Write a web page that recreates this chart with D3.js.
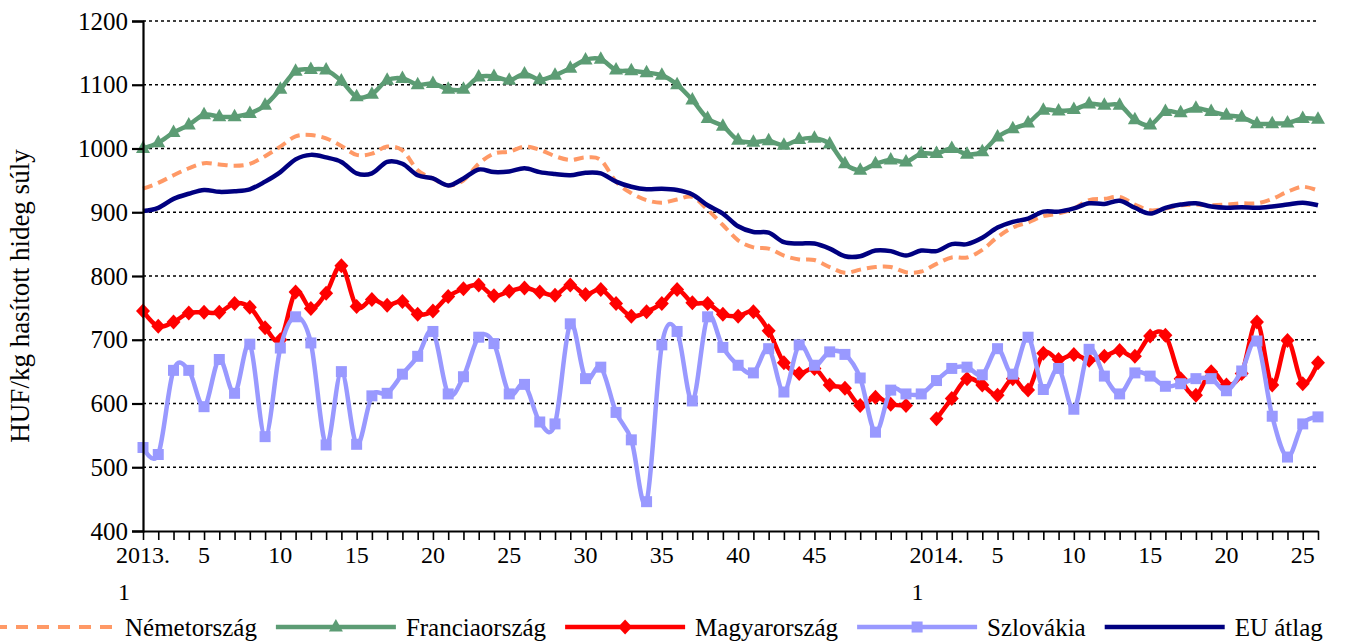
<!DOCTYPE html>
<html>
<head>
<meta charset="utf-8">
<script src="https://cdn.jsdelivr.net/npm/d3@7"></script>
<style>
body { margin: 0; background: #fff; }
svg { display: block; }
text { font-family: "Liberation Serif", "Times New Roman", serif; fill: #000; }
</style>
</head>
<body>
<div id="chart"></div>
<script>
var width = 1345, height = 642;
var plot = {left: 143, right: 1318, top: 21, bottom: 531};

// categories: weeks of 2013 and first half of 2014
var weeks2013 = d3.range(1, 53);
var weeks2014 = d3.range(1, 27);
var categories = weeks2013.map(w => "2013-" + w).concat(weeks2014.map(w => "2014-" + w));
var labelledTicks = ["2013-1","2013-5","2013-10","2013-15","2013-20","2013-25","2013-30","2013-35","2013-40","2013-45",
                     "2014-1","2014-5","2014-10","2014-15","2014-20","2014-25"];
var yTicks = [400, 500, 600, 700, 800, 900, 1000, 1100, 1200];

var nemetorszag = [937,946,958,969,977,975,973,976,988,1003,1019,1021,1016,1004,990,992,1003,997,966,953,942,950,976,992,995,
  1003,998,988,982,986,982,948,930,919,915,920,924,904,880,856,845,843,832,826,825,814,805,810,814,814,806,
  807,819,829,829,841,861,876,884,894,898,906,919,921,924,912,903,906,911,912,911,912,914,914,921,932,940,934];
var franciaorszag = [1000,1009,1025,1037,1053,1050,1050,1055,1068,1093,1121,1124,1123,1106,1081,1085,1107,1110,1100,1102,1093,1093,1112,1113,1107,
  1117,1108,1115,1126,1139,1140,1123,1122,1119,1115,1100,1076,1047,1035,1013,1010,1012,1005,1014,1016,1007,976,966,976,982,979,
  992,992,1000,991,995,1018,1031,1040,1060,1059,1061,1070,1068,1068,1045,1037,1058,1056,1063,1058,1052,1049,1039,1039,1040,1047,1046];
var magyarorszag = [745,721,728,742,743,743,757,751,719,700,775,749,773,816,752,763,754,760,740,745,768,780,786,769,776,
  781,775,770,786,771,779,757,737,744,757,779,758,757,740,737,744,714,664,647,655,629,624,597,610,599,597,
  null,576,608,639,629,613,639,621,679,669,677,668,674,683,674,706,707,639,613,650,629,647,728,629,699,631,664];
var szlovakia = [531,520,652,652,595,669,616,693,548,687,736,695,535,650,536,612,616,646,674,713,615,642,704,694,615,
  630,571,568,725,639,657,586,543,446,692,713,604,736,688,660,648,686,618,692,660,681,677,640,555,621,615,
  615,636,655,657,645,686,646,704,622,655,591,685,643,615,648,643,627,631,639,639,620,651,698,580,516,568,579];
var euAtlag = [902,907,921,929,935,932,933,936,948,963,983,990,986,979,961,961,979,976,958,953,942,953,967,963,964,
  969,963,960,958,962,961,948,940,936,937,935,928,911,898,878,869,868,853,851,851,843,831,831,840,839,832,
  840,839,850,850,860,876,885,890,901,901,906,914,913,918,907,898,907,912,914,909,907,908,907,909,912,915,911];

var series = [
  {name: "Németország",   values: nemetorszag,   color: "#FF9966", width: 4,   dash: "10,6", marker: null},
  {name: "Franciaország", values: franciaorszag, color: "#5C9C74", width: 4.5, dash: null,   marker: "triangle"},
  {name: "Magyarország",  values: magyarorszag,  color: "#FF0000", width: 4.5, dash: null,   marker: "diamond"},
  {name: "Szlovákia",     values: szlovakia,     color: "#9999FF", width: 4.5, dash: null,   marker: "square"},
  {name: "EU átlag",      values: euAtlag,       color: "#000080", width: 4.5, dash: null,   marker: null}
];

var svg = d3.select("#chart").append("svg")
  .attr("width", width)
  .attr("height", height);

var x = d3.scalePoint().domain(categories).range([plot.left, plot.right]);
var y = d3.scaleLinear().domain([400, 1200]).range([plot.bottom, plot.top]);

// dotted gridlines
svg.append("g")
  .selectAll("line")
  .data(yTicks.slice(1))
  .enter()
  .append("line")
    .attr("x1", plot.left)
    .attr("x2", plot.right)
    .attr("y1", d => y(d))
    .attr("y2", d => y(d))
    .attr("stroke", "#000")
    .attr("stroke-width", 1.6)
    .attr("stroke-dasharray", "3,3");

// marker shapes
function markerPath(type) {
  if (type == "triangle") return "M0,-8L7,4.5L-7,4.5Z";
  if (type == "diamond") return "M0,-7.5L7,0L0,7.5L-7,0Z";
  if (type == "square") return "M-5.5,-5.5H5.5V5.5H-5.5Z";
  return null;
}

var line = d3.line()
  .defined(d => d.v != null)
  .x(d => x(d.c))
  .y(d => y(d.v))
  .curve(d3.curveCatmullRom.alpha(0));

series.forEach(function(s) {
  var pts = categories.map((c, i) => ({c: c, v: s.values[i]}));
  var g = svg.append("g");
  g.append("path")
    .datum(pts)
    .attr("d", line)
    .attr("fill", "none")
    .attr("stroke", s.color)
    .attr("stroke-width", s.width)
    .attr("stroke-dasharray", s.dash);
  if (s.marker) {
    g.selectAll(".mk")
      .data(pts.filter(d => d.v != null))
      .enter()
      .append("path")
        .attr("class", "mk")
        .attr("d", markerPath(s.marker))
        .attr("transform", d => "translate(" + x(d.c) + "," + y(d.v) + ")")
        .attr("fill", s.color);
  }
});

// y axis
var yAxis = svg.append("g")
  .attr("transform", "translate(" + plot.left + ",0)")
  .call(d3.axisLeft(y).tickValues(yTicks).tickSize(11).tickPadding(4).tickFormat(d3.format("d")));
yAxis.select(".domain").attr("stroke-width", 2.2);
yAxis.selectAll(".tick line").attr("stroke-width", 2.2);
yAxis.selectAll("text").style("font-size", "25px").attr("fill", "#000")
  .style("font-family", "'Liberation Serif', serif");

// x axis
var xAxis = svg.append("g")
  .attr("transform", "translate(0," + plot.bottom + ")")
  .call(d3.axisBottom(x).tickSize(9).tickSizeOuter(0).tickFormat(""));
xAxis.select(".domain").attr("stroke-width", 2.2);
xAxis.selectAll(".tick line").attr("stroke-width", 1.6);

function tickText(c) {
  var p = c.split("-");
  return p[1] == "1" ? [p[0] + ".", "1"] : [p[1]];
}

var xl = svg.append("g");
labelledTicks.forEach(function(c) {
  var parts = tickText(c);
  var t = xl.append("text")
    .attr("x", x(c))
    .attr("y", 563)
    .attr("text-anchor", "middle")
    .style("font-size", "24px")
    .text(parts[0]);
  if (parts.length > 1) {
    var w = t.node().getComputedTextLength();
    xl.append("text")
      .attr("x", x(c) - w / 2 + 2)
      .attr("y", 600)
      .style("font-size", "24px")
      .text(parts[1]);
  }
});

// y axis title
svg.append("text")
  .attr("transform", "translate(29," + ((plot.top + plot.bottom) / 2 + 20) + ") rotate(-90)")
  .attr("text-anchor", "middle")
  .style("font-size", "27px")
  .text("HUF/kg hasított hideg súly");

// legend
var legend = svg.append("g").attr("transform", "translate(0,627)");
var cursor = -5;
series.forEach(function(s) {
  var item = legend.append("g");
  item.append("line")
    .attr("x1", cursor).attr("x2", cursor + 120)
    .attr("stroke", s.color)
    .attr("stroke-width", s.width)
    .attr("stroke-dasharray", s.dash ? "12,9" : null);
  if (s.marker) {
    item.append("path")
      .attr("d", markerPath(s.marker))
      .attr("transform", "translate(" + (cursor + 60) + ",0)")
      .attr("fill", s.color);
  }
  cursor += 130;
  var t = item.append("text")
    .attr("x", cursor)
    .attr("y", 9)
    .style("font-size", "25px")
    .text(s.name);
  cursor += t.node().getComputedTextLength() + 19;
});
</script>
</body>
</html>
